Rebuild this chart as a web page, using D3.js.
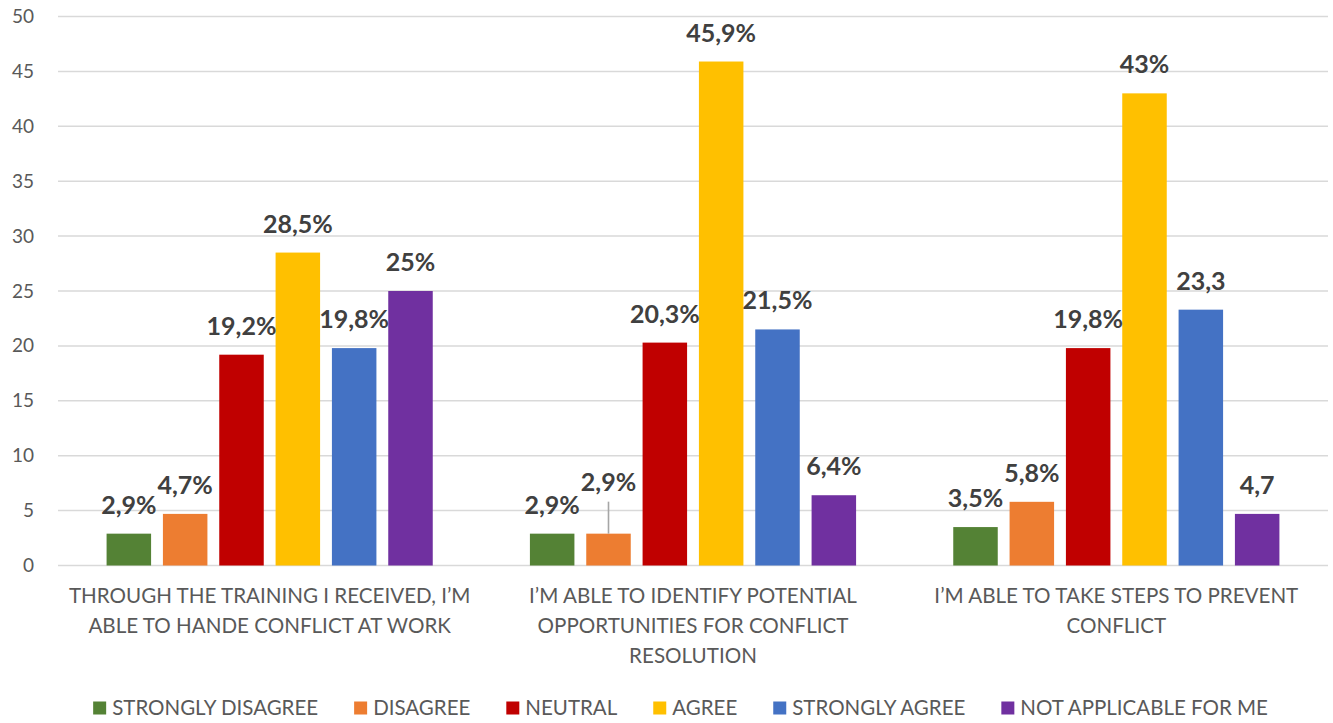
<!DOCTYPE html>
<html>
<head>
<meta charset="utf-8">
<script src="https://cdn.jsdelivr.net/npm/d3@7"></script>
<style>
  html, body { margin: 0; padding: 0; background: #fff; }
  svg { display: block; }
</style>
</head>
<body>
<svg id="chart" width="1333" height="723"></svg>
<script>
// Survey statements (x categories)
const categories = [
  "THROUGH THE TRAINING I RECEIVED, I’M ABLE TO HANDE CONFLICT AT WORK",
  "I’M ABLE TO IDENTIFY POTENTIAL OPPORTUNITIES FOR CONFLICT RESOLUTION",
  "I’M ABLE TO TAKE STEPS TO PREVENT CONFLICT"
];

// Response options (series)
const seriesNames = [
  "STRONGLY DISAGREE", "DISAGREE", "NEUTRAL", "AGREE", "STRONGLY AGREE", "NOT APPLICABLE FOR ME"
];
const seriesColors = ["#548235", "#ED7D31", "#C00000", "#FFC000", "#4472C4", "#7030A0"];

// Share of respondents per statement, one array per response option
const stronglyDisagree = [2.9, 2.9, 3.5];
const disagree         = [4.7, 2.9, 5.8];
const neutral          = [19.2, 20.3, 19.8];
const agree            = [28.5, 45.9, 43];
const stronglyAgree    = [19.8, 21.5, 23.3];
const notApplicable    = [25, 6.4, 4.7];
const seriesValues = [stronglyDisagree, disagree, neutral, agree, stronglyAgree, notApplicable];

// Labels printed without the percent sign: [series index, category index]
const plainLabels = [[4, 2], [5, 2]];

// Y axis ticks
const yTicks = [0, 5, 10, 15, 20, 25, 30, 35, 40, 45, 50];

const svg = d3.select("#chart");
const plot = { left: 58, right: 1328, top: 16.5, bottom: 565.5 };

const x0 = d3.scaleBand().domain(categories).range([plot.left, plot.right]).padding(0);
const x1 = d3.scaleBand().domain(d3.range(seriesNames.length)).range([-169, 169])
  .paddingInner(0.21).paddingOuter(0.105);
const y = d3.scaleLinear().domain([0, 50]).range([plot.bottom, plot.top]);

const textGray = "#595959";
const labelGray = "#404040";

// Gridlines
svg.append("g").selectAll("line").data(yTicks).join("line")
  .attr("x1", plot.left).attr("x2", plot.right)
  .attr("y1", d => y(d)).attr("y2", d => y(d))
  .attr("stroke", "#d9d9d9").attr("stroke-width", 1.5);

// Y axis labels
const yAxis = d3.axisLeft(y).tickValues(yTicks).tickSize(0).tickPadding(24);
svg.append("g").attr("transform", `translate(${plot.left},0)`).call(yAxis)
  .call(g => g.select(".domain").remove())
  .call(g => g.selectAll("text")
    .attr("fill", textGray)
    .style("font-family", "Lato, sans-serif")
    .style("font-size", "19px"));

// Flatten data to one record per bar
const bars = [];
categories.forEach((c, ci) => {
  seriesNames.forEach((s, si) => {
    bars.push({ cat: c, ci, si, value: seriesValues[si][ci] });
  });
});

const barX = d => x0(d.cat) + x0.bandwidth() / 2 + x1(d.si);

svg.append("g").selectAll("rect").data(bars).join("rect")
  .attr("x", barX)
  .attr("y", d => y(d.value))
  .attr("width", x1.bandwidth())
  .attr("height", d => y(0) - y(d.value))
  .attr("fill", d => seriesColors[d.si]);

// Value labels
const fmt = d => {
  const plain = plainLabels.some(p => p[0] === d.si && p[1] === d.ci);
  return String(d.value).replace(".", ",") + (plain ? "" : "%");
};

const labelG = svg.append("g")
  .style("font-family", "Lato, sans-serif")
  .style("font-size", "25px")
  .style("font-weight", "bold")
  .attr("fill", labelGray)
  .attr("text-anchor", "middle");

bars.forEach(d => {
  d.cx = barX(d) + x1.bandwidth() / 2;
  d.ly = y(d.value) - 20;
  d.raised = false;
});

// Nudge a label up when it would sit level with its left neighbour
const labels = labelG.selectAll("text").data(bars).join("text")
  .attr("x", d => d.cx).attr("y", d => d.ly).text(fmt);
labels.each(function (d) { d.w = this.getComputedTextLength(); });
categories.forEach((c, ci) => {
  const group = bars.filter(b => b.ci === ci);
  for (let i = 1; i < group.length; i++) {
    const a = group[i - 1], b = group[i];
    const gap = (b.cx - b.w / 2) - (a.cx + a.w / 2);
    if (Math.abs(a.ly - b.ly) < 12 && gap < 10) {
      b.ly -= 23;
      b.raised = true;
    }
  }
});
labels.attr("y", d => d.ly);

// Leader lines for raised labels
svg.append("g").selectAll("line").data(bars.filter(b => b.raised)).join("line")
  .attr("x1", d => d.cx).attr("x2", d => d.cx)
  .attr("y1", d => d.ly + 11).attr("y2", d => y(d.value))
  .attr("stroke", "#a6a6a6").attr("stroke-width", 1.6);

// Category labels, wrapped to the band width
const catG = svg.append("g")
  .style("font-family", "Lato, sans-serif")
  .style("font-size", "20.6px")
  .attr("fill", textGray)
  .attr("text-anchor", "middle");

categories.forEach(c => {
  const cx = x0(c) + x0.bandwidth() / 2;
  const t = catG.append("text").attr("x", cx).attr("y", 603);
  let line = [];
  let tspan = t.append("tspan").attr("x", cx).attr("dy", 0);
  c.split(" ").forEach(w => {
    line.push(w);
    tspan.text(line.join(" "));
    if (tspan.node().getComputedTextLength() > 412 && line.length > 1) {
      line.pop();
      tspan.text(line.join(" "));
      line = [w];
      tspan = t.append("tspan").attr("x", cx).attr("dy", 30).text(w);
    }
  });
});

// Legend
const legend = svg.append("g")
  .style("font-family", "Lato, sans-serif")
  .style("font-size", "20.5px")
  .attr("fill", textGray);
const sq = 13, sqGap = 6, itemGap = 36;
const items = seriesNames.map((name, i) => {
  const g = legend.append("g");
  g.append("rect").attr("width", sq).attr("height", sq).attr("y", -13.5).attr("fill", seriesColors[i]);
  const t = g.append("text").attr("x", sq + sqGap).attr("y", 0).text(name);
  return { g, w: sq + sqGap + t.node().getComputedTextLength() };
});
const total = d3.sum(items, d => d.w) + itemGap * (items.length - 1);
let lx = 680.5 - total / 2;
items.forEach(it => {
  it.g.attr("transform", `translate(${lx},715)`);
  lx += it.w + itemGap;
});
</script>
</body>
</html>
